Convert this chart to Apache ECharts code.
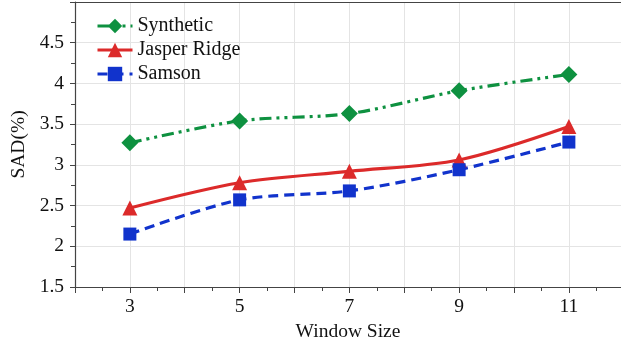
<!DOCTYPE html>
<html>
<head>
<meta charset="utf-8">
<script src="https://cdn.jsdelivr.net/npm/echarts@6/dist/echarts.min.js"></script>
<style>html,body{margin:0;padding:0;background:#fff;}#c{width:621px;height:345px;}</style>
</head>
<body>
<div id="c"></div>
<script>
var windowSizes = [3, 5, 7, 9, 11];
var synthetic = [3.27, 3.54, 3.63, 3.91, 4.11];
var jasperRidge = [2.47, 2.78, 2.92, 3.06, 3.47];
var samson = [2.15, 2.57, 2.68, 2.94, 3.28];
var yTickLabels = ['1.5', '2', '2.5', '3', '3.5', '4', '4.5'];
var xTickLabels = ['3', '5', '7', '9', '11'];

function pairs(vals) { return windowSizes.map(function (x, i) { return [x, vals[i]]; }); }

var font = '"Liberation Serif", "Times New Roman", serif';
var fs = 19.5;
var chart = echarts.init(document.getElementById('c'), null, { renderer: 'canvas' });
chart.setOption({
  animation: false,
  textStyle: { fontFamily: font },
  grid: { left: 75, right: 0, top: 2, bottom: 58, containLabel: false, outerBoundsMode: 'none' },
  legend: {
    left: 91, top: 11, orient: 'vertical', itemGap: 4, itemWidth: 35, itemHeight: 18,
    lineStyle: { width: 3 },
    textStyle: { fontFamily: font, fontSize: 20, color: '#111' },
    data: ['Synthetic', 'Jasper Ridge', 'Samson']
  },
  xAxis: [{
    type: 'value', min: 2, max: 11.95, interval: 1,
    name: 'Window Size', nameLocation: 'middle', nameGap: 30,
    nameTextStyle: { fontFamily: font, fontSize: fs, color: '#111' },
    axisLine: { lineStyle: { color: '#444', width: 1.2 } },
    axisTick: { show: true, length: 6, lineStyle: { color: '#444' } },
    minorTick: { show: true, splitNumber: 2, length: 4, lineStyle: { color: '#444' } },
    axisLabel: { fontFamily: font, fontSize: fs, color: '#111', margin: 10, showMaxLabel: false,
      formatter: function (v) { return xTickLabels.indexOf(String(v)) >= 0 ? String(v) : ''; } },
    splitLine: { show: true, lineStyle: { color: '#e4e4e4' } }
  }, {
    type: 'value', position: 'top', min: 2, max: 11.95,
    axisLine: { show: true, lineStyle: { color: '#444', width: 1.2 } },
    axisTick: { show: false }, axisLabel: { show: false }, splitLine: { show: false }
  }],
  yAxis: {
    type: 'value', min: 1.5, max: 5, interval: 0.5,
    name: 'SAD(%)', nameLocation: 'middle', nameGap: 45, nameRotate: 90,
    nameTextStyle: { fontFamily: font, fontSize: fs, color: '#111' },
    axisLine: { show: true, lineStyle: { color: '#444', width: 1.2 } },
    axisTick: { show: true, length: 5, lineStyle: { color: '#444' } },
    minorTick: { show: true, splitNumber: 2, length: 4, lineStyle: { color: '#444' } },
    axisLabel: { fontFamily: font, fontSize: fs, color: '#111', margin: 11,
      formatter: function (v) { var s = String(v); return yTickLabels.indexOf(s) >= 0 ? s : ''; } },
    splitLine: { show: true, lineStyle: { color: '#e4e4e4' } }
  },
  series: [{
    name: 'Synthetic', type: 'line', smooth: 0.3, data: pairs(synthetic),
    symbol: 'diamond', symbolSize: 17,
    itemStyle: { color: '#0e9140' },
    lineStyle: { color: '#0e9140', width: 3.2, type: [12, 5, 3, 5, 3, 5] }
  }, {
    name: 'Jasper Ridge', type: 'line', smooth: 0.3, data: pairs(jasperRidge),
    symbol: 'triangle', symbolSize: 15,
    itemStyle: { color: '#dc2a2a' },
    lineStyle: { color: '#dc2a2a', width: 3.2, type: 'solid' }
  }, {
    name: 'Samson', type: 'line', smooth: 0.3, data: pairs(samson),
    symbol: 'rect', symbolSize: 13,
    itemStyle: { color: '#1133cc' },
    lineStyle: { color: '#1133cc', width: 3.2, type: [10, 6] }
  }]
});
</script>
</body>
</html>
